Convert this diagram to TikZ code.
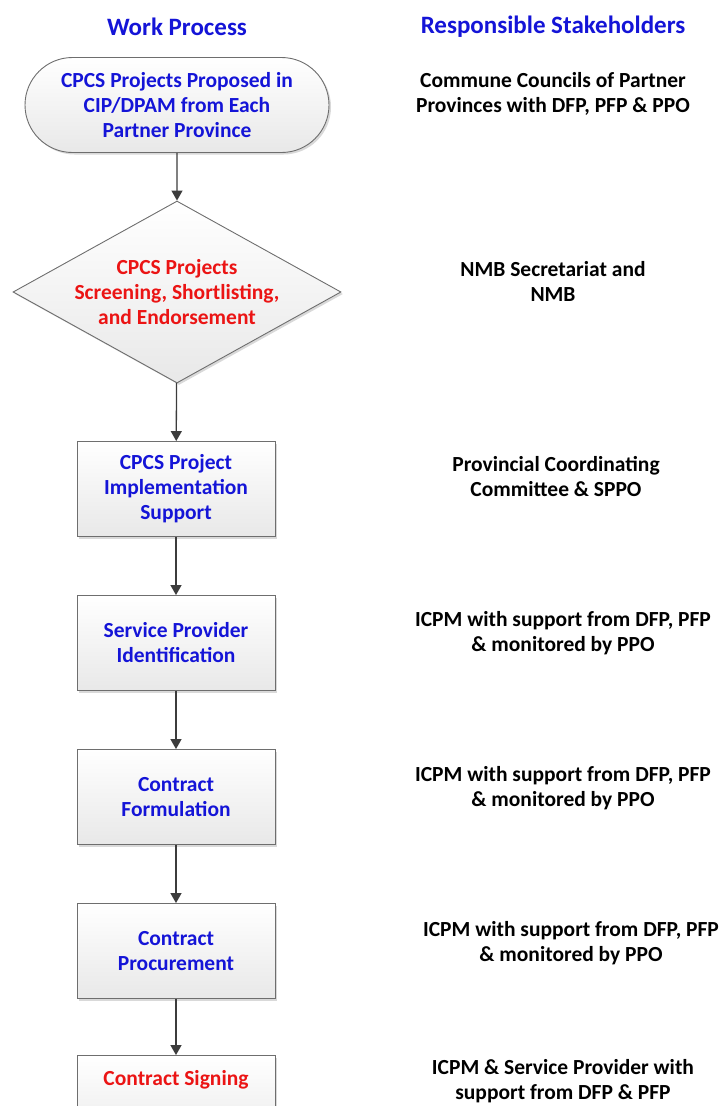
\documentclass[tikz,border=0pt]{standalone}
\usepackage{fontspec}
\setmainfont{Carlito}
\usetikzlibrary{shapes.geometric,shapes.misc,shadows,arrows.meta}
\definecolor{tblue}{RGB}{20,20,215}
\definecolor{tred}{RGB}{235,20,20}
\definecolor{edge}{RGB}{110,110,110}
\definecolor{arr}{RGB}{60,60,60}
\begin{document}
\begin{tikzpicture}[x=1pt,y=-1pt,
  every node/.style={font=\fontsize{21.5}{25}\selectfont\bfseries, align=center},
  shape base/.style={draw=edge, line width=0.9pt, top color=white, bottom color=black!9,
     drop shadow={shadow xshift=2pt, shadow yshift=-2pt, opacity=0.25, fill=black!60}},
  procbox/.style={shape base, rectangle, minimum width=198pt, minimum height=95pt, inner sep=0pt},
  termbox/.style={shape base, rounded rectangle, minimum width=304pt, minimum height=95pt, inner sep=0pt},
  decbox/.style={shape base, diamond, aspect=1.8, minimum width=328pt, minimum height=182pt, inner sep=0pt},
  hdr/.style={font=\fontsize{25}{25}\selectfont\bfseries, text=tblue},
  stk/.style={text=black},
  flow/.style={draw=arr, line width=1.3pt, -{Triangle[length=10pt,width=11pt]}}
]
\useasboundingbox (0,0) rectangle (725,1106);
% headers
\node[hdr] (h1) at (177,27) {Work Process};
\node[hdr] (h2) at (553,27) {Responsible Stakeholders};
% process
\node[termbox, text=tblue] (n1) at (177,105) {CPCS Projects Proposed in\\CIP/DPAM from Each\\Partner Province};
\node[decbox, text=tred] (n2) at (177,292) {CPCS Projects\\Screening, Shortlisting,\\and Endorsement};
\node[procbox, text=tblue] (n3) at (176,489) {CPCS Project\\Implementation\\Support};
\node[procbox, text=tblue] (n4) at (176,643) {Service Provider\\Identification};
\node[procbox, text=tblue] (n5) at (176,797) {Contract\\Formulation};
\node[procbox, text=tblue] (n6) at (176,951) {Contract\\Procurement};
\node[procbox] (n7) at (176,1103) {};
\node[text=tred] (n7t) at (176,1080) {Contract Signing};
% connectors
\draw[flow] (n1) -- (n2);
\draw[flow] (n2) -- (n3);
\draw[flow] (n3) -- (n4);
\draw[flow] (n4) -- (n5);
\draw[flow] (n5) -- (n6);
\draw[flow] (n6) -- (n7);
% stakeholders
\node[stk] (s1) at (553,94) {Commune Councils of Partner\\Provinces with DFP, PFP \& PPO};
\node[stk] (s2) at (553,281) {NMB Secretariat and\\NMB};
\node[stk] (s3) at (556,477) {Provincial Coordinating\\Committee \& SPPO};
\node[stk] (s4) at (563,633) {ICPM with support from DFP, PFP\\\& monitored by PPO};
\node[stk] (s5) at (563,788) {ICPM with support from DFP, PFP\\\& monitored by PPO};
\node[stk] (s6) at (571,943) {ICPM with support from DFP, PFP\\\& monitored by PPO};
\node[stk] (s7) at (563,1081) {ICPM \& Service Provider with\\support from DFP \& PFP};
\end{tikzpicture}
\end{document}
